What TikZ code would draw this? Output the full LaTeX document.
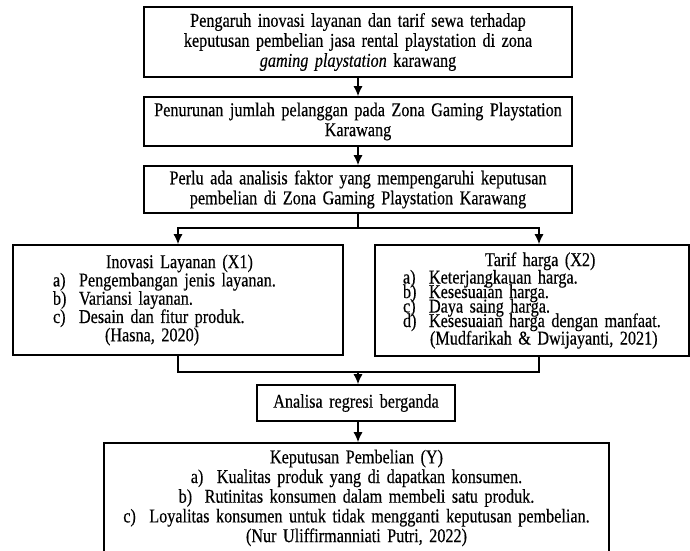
\documentclass[tikz,border=0pt]{standalone}
\usepackage{fontspec}
\setmainfont[FakeStretch=0.83, FakeBold=0.4]{Liberation Serif}
\usepackage{tikz}
\usetikzlibrary{positioning, arrows.meta}
\newcommand{\rapat}{\lineskiplimit=-20pt\spaceskip=3.3pt plus 1pt minus 0.5pt\relax}
\newcommand{\butir}[2]{\makebox[26pt][l]{#1}#2}
\tikzstyle{kotak} = [draw, line width=1.6pt, inner sep=0pt, align=center, font=\fontsize{19.5}{20}\selectfont\rapat]
\tikzstyle{arrow} = [line width=1.4pt,-{Latex[length=10pt,width=9pt]}]
\tikzstyle{garis} = [line width=1.4pt]

\begin{document}
\begin{tikzpicture}[x=1pt,y=1pt]
        \useasboundingbox (0,0) rectangle (690,-550);
        \node[kotak, text width=428pt, minimum height=70pt] (pengaruh) at (358,-42) {Pengaruh inovasi layanan dan tarif sewa terhadap\\ keputusan pembelian jasa rental playstation di zona\\ \textit{gaming playstation} karawang};
        \node[kotak, text width=428pt, minimum height=49pt, node distance=79.5pt, below of=pengaruh] (penurunan) {Penurunan jumlah pelanggan pada Zona Gaming Playstation\\ Karawang};
        \node[kotak, text width=428pt, minimum height=47pt, node distance=68pt, below of=penurunan] (perlu) {Perlu ada analisis faktor yang mempengaruhi keputusan\\ pembelian di Zona Gaming Playstation Karawang};
        \node[kotak, align=left, text width=330pt, minimum height=110pt, font=\fontsize{19.5}{18.3}\selectfont\rapat] (inovasi) at (178,-300) {\hspace*{93pt}Inovasi Layanan (X1)\\ \hspace*{40pt}\butir{a)}{Pengembangan jenis layanan.}\\ \hspace*{40pt}\butir{b)}{Variansi layanan.}\\ \hspace*{40pt}\butir{c)}{Desain dan fitur produk.}\\ \hspace*{92pt}(Hasna, 2020)};
        \node[kotak, align=left, text width=314pt, minimum height=111pt, font=\fontsize{19.5}{14.5}\selectfont\rapat] (tarif) at (532,-300.5) {\hspace*{110pt}Tarif harga (X2)\\[3pt] \hspace*{28pt}\butir{a)}{Keterjangkauan harga.}\\ \hspace*{28pt}\butir{b)}{Kesesuaian harga.}\\ \hspace*{28pt}\butir{c)}{Daya saing harga.}\\ \hspace*{28pt}\butir{d)}{Kesesuaian harga dengan manfaat.}\\[3pt] \hspace*{55pt}(Mudfarikah \& Dwijayanti, 2021)};
        \node[kotak, text width=198pt, minimum height=36pt] (regresi) at (356,-403) {Analisa regresi berganda};
        \node[kotak, text width=505pt, minimum height=110pt, font=\fontsize{19.5}{19.7}\selectfont\rapat] (keputusan) at (356.5,-498) {Keputusan Pembelian (Y)\\ \butir{a)}{Kualitas produk yang di dapatkan konsumen.}\\ \butir{b)}{Rutinitas konsumen dalam membeli satu produk.}\\ \butir{c)}{Loyalitas konsumen untuk tidak mengganti keputusan pembelian.}\\ (Nur Uliffirmanniati Putri, 2022)};
        \coordinate (cabang) at (358,-228);
        \coordinate (gabung) at (358,-372);
        \draw[arrow] (pengaruh) -- (penurunan);
        \draw[arrow] (penurunan) -- (perlu);
        \draw[garis] (perlu.south) -- (cabang);
        \draw[arrow] (cabang) -| (inovasi.north);
        \draw[arrow] (cabang) -| ([xshift=7pt]tarif.north);
        \draw[garis] (inovasi.south) |- (gabung);
        \draw[garis] ([xshift=7pt]tarif.south) |- (gabung);
        \draw[arrow] (gabung) -- (gabung |- regresi.north);
        \draw[arrow] (regresi.south -| gabung) -- (gabung |- keputusan.north);
    \end{tikzpicture}
\end{document}
